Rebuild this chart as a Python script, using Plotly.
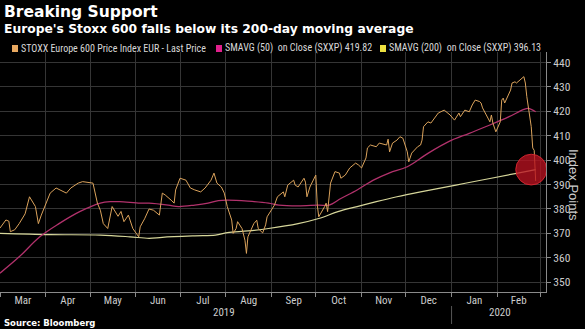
import plotly.graph_objects as go
from datetime import datetime, timedelta

# ---------------- data ----------------
price_dates = [
    "2019-03-01", "2019-03-05", "2019-03-07", "2019-03-08", "2019-03-11", "2019-03-14",
    "2019-03-18", "2019-03-21", "2019-03-25", "2019-03-27", "2019-03-29",
    "2019-04-04", "2019-04-08", "2019-04-11", "2019-04-15", "2019-04-18", "2019-04-23",
    "2019-04-26", "2019-04-30",
    "2019-05-03", "2019-05-06", "2019-05-08", "2019-05-10", "2019-05-13", "2019-05-16",
    "2019-05-20", "2019-05-22", "2019-05-24", "2019-05-27", "2019-05-30", "2019-06-03",
    "2019-06-04", "2019-06-07", "2019-06-10", "2019-06-13", "2019-06-17", "2019-06-19",
    "2019-06-21", "2019-06-25", "2019-06-27", "2019-06-28",
    "2019-07-01", "2019-07-05", "2019-07-08", "2019-07-11", "2019-07-15", "2019-07-18",
    "2019-07-22", "2019-07-24", "2019-07-26", "2019-07-29", "2019-07-31",
    "2019-08-02", "2019-08-05", "2019-08-06", "2019-08-08", "2019-08-09", "2019-08-12",
    "2019-08-14", "2019-08-15", "2019-08-16", "2019-08-20", "2019-08-22", "2019-08-23",
    "2019-08-26", "2019-08-28", "2019-08-29",
    "2019-09-02", "2019-09-03", "2019-09-05", "2019-09-09", "2019-09-10", "2019-09-12",
    "2019-09-16", "2019-09-17", "2019-09-19", "2019-09-23", "2019-09-24", "2019-09-25",
    "2019-09-27", "2019-09-30",
    "2019-10-01", "2019-10-02", "2019-10-03", "2019-10-07", "2019-10-08", "2019-10-09",
    "2019-10-10", "2019-10-11", "2019-10-14", "2019-10-17", "2019-10-18", "2019-10-21",
    "2019-10-24", "2019-10-28", "2019-10-30",
    "2019-11-01", "2019-11-04", "2019-11-05", "2019-11-07", "2019-11-11", "2019-11-13",
    "2019-11-18", "2019-11-19", "2019-11-20", "2019-11-22", "2019-11-25", "2019-11-27",
    "2019-11-29",
    "2019-12-02", "2019-12-03", "2019-12-05", "2019-12-09", "2019-12-11", "2019-12-12",
    "2019-12-13", "2019-12-16", "2019-12-18", "2019-12-23", "2019-12-27", "2019-12-31",
    "2020-01-03", "2020-01-06", "2020-01-07", "2020-01-09", "2020-01-10", "2020-01-13",
    "2020-01-15", "2020-01-17", "2020-01-20", "2020-01-21", "2020-01-22", "2020-01-27",
    "2020-01-28", "2020-01-29", "2020-01-31",
    "2020-02-03", "2020-02-04", "2020-02-05", "2020-02-06", "2020-02-10", "2020-02-11",
    "2020-02-13", "2020-02-14", "2020-02-19", "2020-02-20", "2020-02-21", "2020-02-24",
    "2020-02-25", "2020-02-26", "2020-02-27",
]
price_values = [
    372.2, 375.5, 375.0, 370.7, 371.5, 374.0,
    378.0, 385.0, 381.0, 374.0, 377.5,
    386.5, 388.6, 387.8, 386.5, 388.6, 390.6,
    391.2, 391.0,
    390.6, 382.4, 379.5, 374.0, 372.0, 381.0,
    377.0, 379.0, 374.8, 377.5, 372.0, 368.6,
    372.7, 376.0, 380.0, 379.5, 377.5, 386.5,
    385.7, 383.6, 382.4, 387.8,
    392.6, 391.8, 388.6, 387.8, 387.0, 388.6,
    391.8, 394.7, 390.6, 389.0, 386.5,
    381.0, 375.5, 370.0, 372.0, 374.8, 372.0,
    367.2, 361.8, 368.6, 374.0, 375.4, 372.0,
    370.2, 373.5, 376.8,
    380.3, 381.6, 385.0, 387.0, 385.0, 389.8,
    391.8, 389.8, 389.0, 392.6, 391.0, 385.0,
    389.0, 392.6,
    393.9, 381.6, 376.8, 381.0, 382.4, 378.9,
    386.5, 390.6, 395.3, 394.7, 392.6, 393.9,
    396.8, 398.8, 398.0,
    396.8, 400.9, 405.0, 406.2, 405.5, 407.0,
    406.2, 408.6, 403.4, 407.0, 408.2, 409.6,
    409.0,
    403.4, 399.3, 402.9, 405.5, 406.2, 408.2,
    413.7, 415.7, 415.2, 419.3, 420.5, 418.5,
    416.4, 419.3, 417.8, 419.3, 420.5, 419.8,
    422.6, 424.6, 424.0, 423.4, 421.4, 415.7,
    418.5, 415.2, 411.6,
    415.7, 424.6, 425.4, 423.4, 428.7, 431.6,
    432.1, 431.6, 434.2, 431.6, 426.0, 413.7,
    405.0, 404.0, 391.5,
]

sma50_dates = [
    "2019-03-01", "2019-03-14", "2019-03-28", "2019-04-10", "2019-04-24", "2019-05-08",
    "2019-05-15", "2019-05-21", "2019-06-04", "2019-06-10", "2019-06-23", "2019-06-30",
    "2019-07-11", "2019-07-20", "2019-07-27", "2019-08-02", "2019-08-16", "2019-08-30",
    "2019-09-06", "2019-09-19", "2019-10-03", "2019-10-10", "2019-10-18", "2019-10-29",
    "2019-11-09", "2019-11-20", "2019-12-02", "2019-12-16", "2019-12-30", "2020-01-13",
    "2020-01-27", "2020-02-09", "2020-02-19", "2020-02-22", "2020-02-27",
]
sma50_values = [
    353.7, 360.4, 368.6, 374.0, 378.9, 382.4,
    383.0, 383.0, 382.4, 382.4, 381.6, 381.0,
    381.6, 382.4, 383.4, 383.6, 383.2, 382.4,
    381.6, 381.3, 381.6, 381.6, 384.3, 387.8,
    391.8, 394.8, 397.3, 402.8, 407.6, 411.0,
    414.4, 417.8, 420.8, 421.2, 419.82,
]

sma200_dates = [
    "2019-03-01", "2019-04-04", "2019-05-08", "2019-05-28", "2019-06-10", "2019-06-19",
    "2019-07-11", "2019-07-25", "2019-08-02", "2019-08-16", "2019-08-30", "2019-09-19",
    "2019-10-03", "2019-10-16", "2019-10-29", "2019-11-11", "2019-11-25", "2019-12-11",
    "2020-01-04", "2020-01-27", "2020-02-14", "2020-02-27",
]
sma200_values = [
    370.0, 369.5, 369.3, 368.6, 368.0, 368.4,
    369.0, 369.3, 370.3, 371.0, 372.0, 374.0,
    376.1, 378.9, 381.0, 383.0, 385.0, 387.0,
    389.8, 392.5, 394.6, 396.13,
]

y_ticks = [350, 360, 370, 380, 390, 400, 410, 420, 430, 440]

title_text = "Breaking Support"
subtitle_text = "Europe's Stoxx 600 falls below its 200-day moving average"
legend_labels = [
    "STOXX Europe 600 Price Index EUR - Last Price",
    "SMAVG (50)  on Close (SXXP) 419.82",
    "SMAVG (200)  on Close (SXXP) 396.13",
]
source_text = "Source: Bloomberg"

# ---------------- styling ----------------
W, H = 585, 329
ML, MR, MT, MB = 0, 39, 52, 37
PW = W - ML - MR
PH = H - MT - MB

C_PRICE = "#dba35c"
C_SMA50 = "#b2326c"
C_SMA200 = "#d6d69a"
C_SQ = ["#e8a860", "#e0208c", "#ece040"]
NARROW = "Liberation Sans Narrow, Roboto Condensed, Arial Narrow, Liberation Sans, sans-serif"
BOLD = "DejaVu Sans, Liberation Sans, sans-serif"


def px_x(px):
    return (px - ML) / PW


def px_y(py):
    return (H - MB - py) / PH


fig = go.Figure()
fig.add_trace(go.Scatter(x=sma200_dates, y=sma200_values, mode="lines",
                         line=dict(color=C_SMA200, width=1.2, shape="spline"), hoverinfo="skip"))
fig.add_trace(go.Scatter(x=sma50_dates, y=sma50_values, mode="lines",
                         line=dict(color=C_SMA50, width=1.3, shape="spline"), hoverinfo="skip"))
fig.add_trace(go.Scatter(x=price_dates, y=price_values, mode="lines",
                         line=dict(color=C_PRICE, width=1), hoverinfo="skip"))

# highlight circle around the last 200-day value
last = datetime.strptime(sma200_dates[-1], "%Y-%m-%d")
cx = last - timedelta(days=3)
rx = timedelta(days=10.5)
ry = 6.3
cy = sma200_values[-1]
fig.add_shape(type="circle", xref="x", yref="y",
              x0=cx - rx, x1=cx + rx, y0=cy - ry, y1=cy + ry,
              fillcolor="rgba(185,18,32,0.78)", line=dict(color="rgba(215,40,50,0.9)", width=1),
              layer="above")

# year separator
fig.add_shape(type="line", xref="x", yref="paper", x0="2020-01-01", x1="2020-01-01",
              y0=px_y(306), y1=px_y(324), line=dict(color="#555555", width=1))

ann = []
ann.append(dict(text="<b>" + title_text + "</b>", x=px_x(2), y=px_y(12), xref="paper", yref="paper",
                xanchor="left", yanchor="middle", showarrow=False,
                font=dict(family=BOLD, size=15.5, color="#ffffff")))
ann.append(dict(text="<b>" + subtitle_text + "</b>", x=px_x(2), y=px_y(28.5), xref="paper", yref="paper",
                xanchor="left", yanchor="middle", showarrow=False,
                font=dict(family=BOLD, size=12.3, color="#ffffff")))
ann.append(dict(text="<b>" + source_text + "</b>", x=px_x(2), y=px_y(323), xref="paper", yref="paper",
                xanchor="left", yanchor="middle", showarrow=False,
                font=dict(family=BOLD, size=8.5, color="#ffffff")))

sq_x = [12, 216, 380]
for i, lab in enumerate(legend_labels):
    fig.add_shape(type="rect", xref="paper", yref="paper",
                  x0=px_x(sq_x[i]), x1=px_x(sq_x[i] + 6), y0=px_y(52), y1=px_y(45),
                  fillcolor=C_SQ[i], line=dict(width=0))
    ann.append(dict(text=lab, x=px_x(sq_x[i] + 6.5), y=px_y(48.5), xref="paper", yref="paper",
                    xanchor="left", yanchor="middle", showarrow=False,
                    font=dict(family=NARROW, size=10, color="#d8d8d8")))

ann.append(dict(text="2019", x="2019-07-31", y=px_y(312), xref="x", yref="paper",
                xanchor="center", yanchor="middle", showarrow=False,
                font=dict(family=NARROW, size=11, color="#cccccc")))
ann.append(dict(text="2020", x="2020-02-03", y=px_y(312), xref="x", yref="paper",
                xanchor="center", yanchor="middle", showarrow=False,
                font=dict(family=NARROW, size=11, color="#cccccc")))
ann.append(dict(text="Index Points", x=px_x(574), y=px_y(185), xref="paper", yref="paper",
                xanchor="center", yanchor="middle", showarrow=False, textangle=90,
                font=dict(family="Liberation Sans, sans-serif", size=13, color="#cccccc")))

fig.update_layout(
    width=W, height=H,
    margin=dict(l=ML, r=MR, t=MT, b=MB, autoexpand=False),
    paper_bgcolor="#000000", plot_bgcolor="#000000",
    showlegend=False,
    annotations=ann,
    xaxis=dict(type="date", range=["2019-03-01", "2020-03-05"],
               dtick="M1", tick0="2019-03-01", ticklabelmode="period", tickformat="%b",
               showgrid=True, gridcolor="#353535", gridwidth=1,
               showline=True, linecolor="#8a8a8a", linewidth=1,
               ticks="outside", ticklen=4, tickcolor="#8a8a8a",
               ticklabelstandoff=-6,
               tickfont=dict(family=NARROW, size=11, color="#cccccc"),
               zeroline=False, fixedrange=True, automargin=False),
    yaxis=dict(side="right", range=[346, 444.3], tickvals=y_ticks,
               showgrid=True, gridcolor="#353535", gridwidth=1,
               showline=True, linecolor="#8a8a8a", linewidth=1,
               ticks="outside", ticklen=4, tickcolor="#8a8a8a",
               tickfont=dict(family=NARROW, size=11.5, color="#cccccc"),
               zeroline=False, fixedrange=True, automargin=False),
)

fig.write_html("out.html")
